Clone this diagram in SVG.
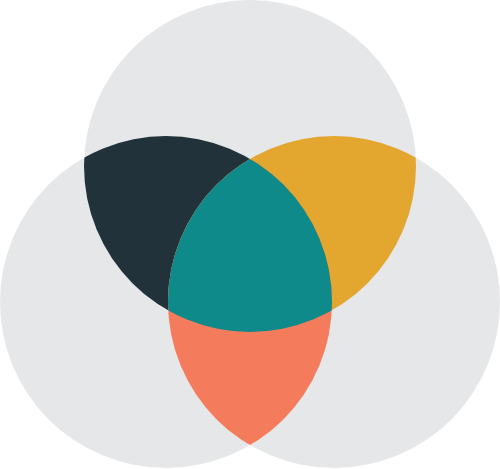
<svg xmlns="http://www.w3.org/2000/svg" width="500" height="469" viewBox="0 0 500 469">
  <style>
    .set { fill: #e6e7e8; }
    .ab { fill: #22323b; }
    .ac { fill: #e3a72f; }
    .bc { fill: #f47b5c; }
    .abc { fill: #0d8a89; }
  </style>
  <defs>
    <clipPath id="clipTop"><circle cx="250" cy="166" r="166"/></clipPath>
    <clipPath id="clipLeft"><circle cx="166" cy="302" r="166"/></clipPath>
    <clipPath id="clipRight"><circle cx="334" cy="302" r="166"/></clipPath>
  </defs>
  <rect width="500" height="469" fill="#ffffff"/>
  <g id="circle-top"><circle class="set" cx="250" cy="166" r="166"/></g>
  <g id="circle-left"><circle class="set" cx="166" cy="302" r="166"/></g>
  <g id="circle-right"><circle class="set" cx="334" cy="302" r="166"/></g>
  <g id="overlap-top-left"><circle class="ab" cx="166" cy="302" r="166" clip-path="url(#clipTop)"/></g>
  <g id="overlap-top-right"><circle class="ac" cx="334" cy="302" r="166" clip-path="url(#clipTop)"/></g>
  <g id="overlap-left-right"><circle class="bc" cx="166" cy="302" r="166" clip-path="url(#clipRight)"/></g>
  <g id="overlap-all" clip-path="url(#clipRight)"><circle class="abc" cx="166" cy="302" r="166" clip-path="url(#clipTop)"/></g>
  <g id="connectors"></g>
</svg>
